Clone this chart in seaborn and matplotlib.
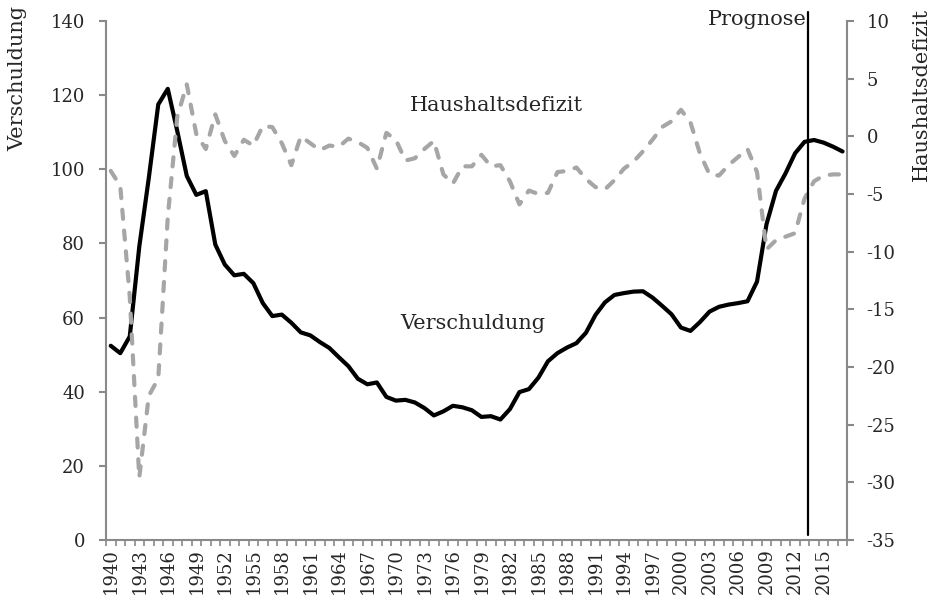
import numpy as np
import pandas as pd
import matplotlib
matplotlib.use("Agg")
import matplotlib.pyplot as plt
import seaborn as sns

# Jahre 1940 - 2017 (ab 2013 Prognose)
years = list(range(1940, 2018))

# Verschuldung in % des BIP (linke Achse)
verschuldung = [52.4, 50.4, 54.9, 79.1, 97.6, 117.5, 121.7, 110.3, 98.2, 93.1,
                94.1, 79.7, 74.3, 71.4, 71.8, 69.3, 63.9, 60.4, 60.8, 58.6,
                56.0, 55.2, 53.4, 51.8, 49.3, 46.9, 43.5, 42.0, 42.5, 38.6,
                37.6, 37.8, 37.1, 35.6, 33.6, 34.7, 36.2, 35.8, 35.0, 33.2,
                33.4, 32.5, 35.3, 39.9, 40.7, 43.8, 48.2, 50.4, 51.9, 53.1,
                55.9, 60.7, 64.1, 66.1, 66.6, 67.0, 67.1, 65.4, 63.2, 60.9,
                57.3, 56.4, 58.8, 61.6, 62.9, 63.5, 63.9, 64.4, 69.7, 85.2,
                94.2, 98.9, 104.3, 107.4, 107.9, 107.2, 106.1, 104.8]

# Haushaltsdefizit in % des BIP (rechte Achse)
defizit = [-3.0, -4.3, -13.9, -29.6, -22.5, -21.0, -7.0, 1.7, 4.5, 0.2,
           -1.1, 1.9, -0.4, -1.7, -0.3, -0.8, 0.9, 0.8, -0.6, -2.5,
           0.0, -0.6, -1.2, -0.8, -0.9, -0.2, -0.5, -1.0, -2.8, 0.3,
           -0.3, -2.1, -1.9, -1.1, -0.4, -3.3, -4.1, -2.6, -2.6, -1.6,
           -2.6, -2.5, -3.9, -5.9, -4.7, -5.0, -4.9, -3.1, -3.0, -2.7,
           -3.7, -4.4, -4.6, -3.8, -2.8, -2.2, -1.3, -0.3, 0.8, 1.3,
           2.3, 1.2, -1.5, -3.3, -3.4, -2.5, -1.8, -1.1, -3.1, -9.8,
           -9.0, -8.7, -8.4, -5.4, -3.9, -3.4, -3.3, -3.3]

prognose_year = 2013.4
left_ticks = list(range(0, 141, 20))
right_ticks = list(range(-35, 11, 5))
label_years = list(range(1940, 2018, 3))

df = pd.DataFrame({"Jahr": years, "Verschuldung": verschuldung, "Defizit": defizit})

sns.set_theme(style="ticks")
plt.rcParams["font.family"] = ["DejaVu Serif"]
plt.rcParams["axes.unicode_minus"] = False

grey = "#898989"
fig = plt.figure(figsize=(9.33, 6.05), dpi=100)
ax = fig.add_axes([106 / 933, 1 - 540 / 605, (847.3 - 106) / 933, 519 / 605])

sns.lineplot(data=df, x="Jahr", y="Verschuldung", ax=ax, color="black", lw=3,
             solid_joinstyle="round")

ax.set_xlim(1939.5, 2017.5)
ax.set_ylim(0, 140)
ax.set_yticks(left_ticks)

# Beschriftung alle 3 Jahre (senkrecht), Teilstriche zwischen den Kategorien
ax.set_xticks(label_years)
ax.set_xticklabels([str(y) for y in label_years], rotation=90, fontsize=13)
ax.set_xticks(np.arange(1939.5, 2018, 1.0), minor=True)
ax.tick_params(axis="x", which="major", length=0, pad=6)
ax.tick_params(axis="x", which="minor", bottom=True, direction="out", length=4,
               width=1.2, color=grey)
ax.tick_params(axis="y", direction="out", length=5, width=1.5, color=grey, pad=10,
               labelsize=13)

ax2 = ax.twinx()
sns.lineplot(data=df, x="Jahr", y="Defizit", ax=ax2, color="#A6A6A6", lw=3,
             linestyle=(0, (2.2, 2.8)), dash_capstyle="round", dash_joinstyle="round")
ax2.axvline(prognose_year, ymin=0.0096, ymax=1.017, color="black", lw=1.6, clip_on=False)
ax2.set_ylim(-35, 10)
ax2.set_yticks(right_ticks)
ax2.tick_params(axis="y", direction="out", length=5, width=1.5, color=grey, pad=9,
                labelsize=13)
ax2.set_xlim(1939.5, 2017.5)

ax.set_xlabel("")
ax.set_ylabel("")
ax2.set_ylabel("")

for a in (ax, ax2):
    a.spines["top"].set_visible(False)
    for s in ("left", "right", "bottom"):
        a.spines[s].set_color(grey)
        a.spines[s].set_linewidth(1.5)
ax.spines["right"].set_visible(False)
ax2.spines["left"].set_visible(False)
ax2.spines["bottom"].set_visible(False)

ax.text(1980.6, 117.3, "Haushaltsdefizit", ha="center", va="center", fontsize=15)
ax.text(1978.1, 58.5, "Verschuldung", ha="center", va="center", fontsize=15)
ax.text(prognose_year - 0.2, 140.5, "Prognose", ha="right", va="center", fontsize=15,
        clip_on=False)

fig.text(18 / 933, 1 - 6 / 605, "Verschuldung", rotation=90, ha="center", va="top", fontsize=15)
fig.text(921 / 933, 1 - 8 / 605, "Haushaltsdefizit", rotation=90, ha="center", va="top", fontsize=15)

fig.savefig("out.png", dpi=100)
